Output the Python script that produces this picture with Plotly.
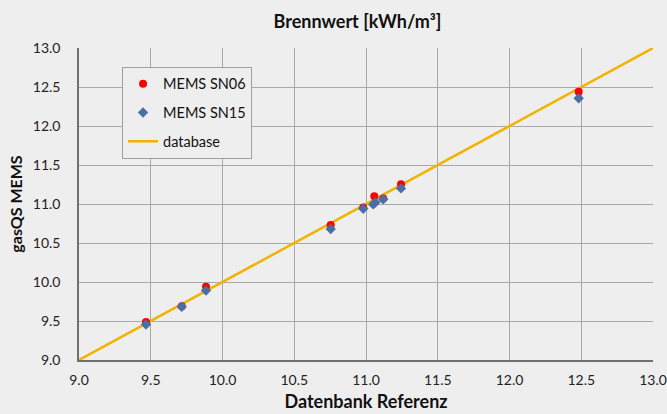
import plotly.graph_objects as go

title = "Brennwert [kWh/m³]"
x_title = "Datenbank Referenz"
y_title = "gasQS MEMS"

sn06_name = "MEMS SN06"
sn06_x = [9.467, 9.716, 9.885, 10.754, 10.981, 11.058, 11.12, 11.244, 12.482]
sn06_y = [9.487, 9.69, 9.94, 10.731, 10.955, 11.10, 11.07, 11.253, 12.44]

sn15_name = "MEMS SN15"
sn15_x = [9.467, 9.716, 9.885, 10.754, 10.981, 11.05, 11.065, 11.12, 11.244, 12.482]
sn15_y = [9.455, 9.683, 9.89, 10.68, 10.94, 10.995, 11.02, 11.06, 11.20, 12.355]

db_name = "database"
db_x = [9.0, 13.0]
db_y = [9.0, 13.0]

ticks = [9.0, 9.5, 10.0, 10.5, 11.0, 11.5, 12.0, 12.5, 13.0]
tick_text = [f"{t:.1f}" for t in ticks]

font = "Lato, Open Sans, sans-serif"

fig = go.Figure()
fig.add_trace(go.Scatter(x=db_x, y=db_y, mode="lines", name=db_name, legendrank=3,
                         legendgroup="c",
                         line=dict(color="#F2B300", width=2.5)))
fig.add_trace(go.Scatter(x=sn06_x, y=sn06_y, mode="markers", name=sn06_name, legendrank=1,
                         legendgroup="a",
                         marker=dict(color="#FF0000", size=8, symbol="circle")))
fig.add_trace(go.Scatter(x=sn15_x, y=sn15_y, mode="markers", name=sn15_name, legendrank=2,
                         legendgroup="b",
                         marker=dict(color="#4A6FA5", size=8, symbol="diamond")))

axis_common = dict(range=[9.0, 13.0], tickvals=ticks, ticktext=tick_text,
                   showgrid=True, gridcolor="#A8A8A8", gridwidth=1,
                   zeroline=False, showline=True, linecolor="#707070", linewidth=1.5,
                   tickfont=dict(size=14, color="#222222", family=font),
                   ticks="", fixedrange=True, automargin=False)

fig.update_layout(
    width=667, height=414,
    paper_bgcolor="#EEEEEE", plot_bgcolor="#EEEEEE",
    margin=dict(l=79, r=14, t=48, b=54),
    title=dict(text=f"<b>{title}</b>", x=0.536, xanchor="center", y=0.947, yanchor="middle",
               font=dict(size=18, color="#111111", family=font)),
    xaxis=dict(**axis_common, ticklabelstandoff=6,
               title=dict(text=f"<b>{x_title}</b>", standoff=9,
                          font=dict(size=18, color="#111111", family=font))),
    yaxis=dict(**axis_common, ticklabelstandoff=14,
               title=dict(text=f"<b>{y_title}</b>", standoff=6,
                          font=dict(size=16, color="#111111", family=font))),
    legend=dict(x=0.075, y=0.94, xanchor="left", yanchor="top",
                bgcolor="#EEEEEE", bordercolor="#A0A0A0", borderwidth=1,
                font=dict(size=14.5, color="#111111", family=font),
                itemwidth=30, tracegroupgap=7),
    showlegend=True,
)

fig.write_html(
    "out.html",
    config={"displayModeBar": False},
    post_script="document.body.style.margin='0';document.body.style.overflow='hidden';",
)
